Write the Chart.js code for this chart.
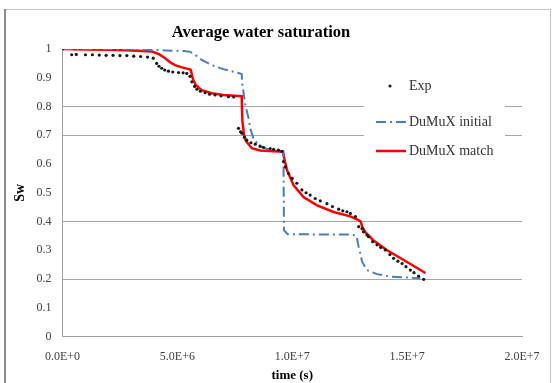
<!DOCTYPE html>
<html>
<head>
<meta charset="utf-8">
<title>Average water saturation</title>
<script src="https://cdn.jsdelivr.net/npm/chart.js@4.4.1/dist/chart.umd.min.js"></script>
<style>
  html, body { margin: 0; padding: 0; background: #fff; }
  #chart { display: block; }
</style>
</head>
<body>
<canvas id="chart" width="554" height="383"></canvas>
<script>
/* Average water saturation vs time - Exp data + two DuMuX runs. */

// time is kept in units of 1e6 s (axis labels below say the same thing in E-notation)
const expTime = [0, 0.4, 0.6, 1.0, 1.3, 1.6, 1.9, 2.2, 2.5, 2.8, 3.1, 3.4, 3.7, 3.95,
  4.1, 4.2, 4.32, 4.45, 4.61, 4.8, 5.05, 5.25, 5.41, 5.55, 5.63, 5.75, 5.85, 6.0, 6.21,
  6.4, 6.64, 6.9, 7.22, 7.45, 7.66, 7.75, 7.81, 7.92, 8.02, 8.2, 8.39, 8.6, 8.75, 9.04,
  9.19, 9.4, 9.55, 9.62, 9.7, 9.84, 10.0, 10.2, 10.42, 10.6, 10.78, 11.0, 11.22, 11.51,
  11.75, 12.02, 12.2, 12.38, 12.53, 12.75, 12.89, 13.04, 13.1, 13.25, 13.32, 13.5, 13.69,
  13.85, 14.05, 14.25, 14.41, 14.6, 14.78, 14.95, 15.14, 15.3, 15.5, 15.72];
const expSw = [1.0, 0.98, 0.981, 0.98, 0.98, 0.979, 0.978, 0.978, 0.977, 0.977, 0.975, 0.974, 0.972, 0.968,
  0.95, 0.94, 0.933, 0.927, 0.923, 0.92, 0.918, 0.917, 0.915, 0.905, 0.886, 0.87, 0.86, 0.853, 0.848,
  0.843, 0.84, 0.837, 0.834, 0.833, 0.724, 0.712, 0.707, 0.693, 0.683, 0.674, 0.669, 0.662, 0.658, 0.654,
  0.651, 0.648, 0.644, 0.608, 0.59, 0.567, 0.55, 0.533, 0.51, 0.5, 0.492, 0.48, 0.472, 0.462,
  0.452, 0.443, 0.437, 0.434, 0.428, 0.417, 0.382, 0.375, 0.364, 0.353, 0.347, 0.33, 0.319,
  0.31, 0.301, 0.285, 0.272, 0.262, 0.254, 0.243, 0.231, 0.222, 0.21, 0.199];

const initTime = [0, 2.0, 3.5, 4.5, 5.3, 5.56, 5.8, 6.06, 6.5, 7.0, 7.5, 7.8, 7.82, 7.95,
  8.1, 8.17, 8.31, 8.6, 9.0, 9.6, 9.62, 9.64, 9.8, 11.0, 12.5, 12.8, 12.89, 12.96, 13.04,
  13.25, 13.69, 14.27, 15.0, 15.58];
const initSw = [1.0, 1.0, 0.998, 0.995, 0.993, 0.99, 0.978, 0.962, 0.944, 0.93, 0.92, 0.913, 0.88, 0.81,
  0.758, 0.724, 0.689, 0.66, 0.65, 0.645, 0.6, 0.37, 0.356, 0.355, 0.355, 0.35, 0.312, 0.29, 0.26,
  0.231, 0.217, 0.208, 0.205, 0.202];

const matchTime = [0, 1.0, 2.0, 3.0, 3.9, 4.2, 4.47, 4.7, 4.9, 5.2, 5.5, 5.58, 5.68, 5.8,
  6.06, 6.5, 7.0, 7.8, 7.83, 7.9, 7.98, 8.24, 8.6, 9.0, 9.6, 9.65, 9.77, 10.06, 10.49,
  11.08, 11.8, 12.53, 12.86, 12.98, 13.05, 13.18, 13.54, 14.13, 15.0, 15.8];
const matchSw = [1.0, 0.998, 0.997, 0.995, 0.991, 0.982, 0.968, 0.953, 0.944, 0.936, 0.93, 0.928, 0.895, 0.875,
  0.857, 0.846, 0.84, 0.836, 0.75, 0.7, 0.68, 0.655, 0.647, 0.645, 0.643, 0.62, 0.579, 0.526, 0.485,
  0.456, 0.433, 0.418, 0.406, 0.4, 0.38, 0.363, 0.334, 0.3, 0.259, 0.221];

const seriesNames = ["Exp", "DuMuX initial", "DuMuX match"];
const xTickLabels = ["0.0E+0", "5.0E+6", "1.0E+7", "1.5E+7", "2.0E+7"];
const yTickLabels = ["0", "0.1", "0.2", "0.3", "0.4", "0.5", "0.6", "0.7", "0.8", "0.9", "1"];
const shownGridSw = [0.2, 0.4, 0.7, 0.8];   // only these horizontal lines show in the original

const SERIF = "'Liberation Serif', 'Times New Roman', serif";
const toPoints = (t, s) => t.map((v, i) => ({ x: v, y: s[i] }));

// white page + thin grey frame like the Excel chart border
const frame = {
  id: "frame",
  beforeDraw(chart) {
    const ctx = chart.ctx;
    ctx.save();
    ctx.fillStyle = "#fff";
    ctx.fillRect(0, 0, chart.width, chart.height);
    ctx.strokeStyle = "#c4c4c4";
    ctx.lineWidth = 1;
    ctx.strokeRect(5.5, 9.5, 545, 390);
    ctx.strokeStyle = "#8c8c8c";
    ctx.lineWidth = 2;
    ctx.beginPath(); ctx.moveTo(5, 9); ctx.lineTo(5, chart.height); ctx.stroke();
    ctx.restore();
  }
};

// legend sits on top of the plot area (white box hides grid lines)
const floatingLegend = {
  id: "floatingLegend",
  afterDraw(chart) {
    const ctx = chart.ctx;
    const rows = [86, 122, 151];
    ctx.save();
    ctx.fillStyle = "#fff";
    ctx.fillRect(364, 72, 141, 100);
    ctx.font = "14px " + SERIF;
    ctx.textBaseline = "middle";
    chart.data.datasets.forEach((ds, i) => {
      const y = rows[i];
      if (!ds.showLine) {
        ctx.fillStyle = "#3a1010";
        ctx.beginPath(); ctx.arc(390, y, 1.6, 0, Math.PI * 2); ctx.fill();
      } else {
        ctx.strokeStyle = ds.borderColor;
        ctx.lineWidth = ds.borderWidth;
        ctx.setLineDash(ds.borderDash || []);
        ctx.beginPath(); ctx.moveTo(376, y); ctx.lineTo(406, y); ctx.stroke();
        ctx.setLineDash([]);
      }
      ctx.fillStyle = "#333";
      ctx.fillText(ds.label, 409, y);
    });
    ctx.restore();
  }
};

new Chart(document.getElementById("chart"), {
  type: "scatter",
  data: {
    datasets: [
      { label: seriesNames[0], data: toPoints(expTime, expSw), showLine: false,
        pointRadius: 1.6, pointBackgroundColor: "#1a1a1a", pointBorderWidth: 0 },
      { label: seriesNames[1], data: toPoints(initTime, initSw), showLine: true,
        borderColor: "#4a7ebb", borderWidth: 2, borderDash: [10, 4, 2, 4], pointRadius: 0 },
      { label: seriesNames[2], data: toPoints(matchTime, matchSw), showLine: true,
        borderColor: "#ff0000", borderWidth: 2.5, pointRadius: 0 },
    ],
  },
  options: {
    responsive: false,
    animation: false,
    layout: { padding: { top: 0, right: 32, bottom: 0, left: 0 } },
    plugins: {
      legend: { display: false },
      tooltip: { enabled: false },
      title: {
        display: true, text: "Average water saturation", color: "#000",
        font: { family: SERIF, size: 16.5, weight: "bold" },
        padding: { top: 23, bottom: 6.2 },
      },
    },
    scales: {
      x: {
        type: "linear", min: 0, max: 20,
        ticks: { stepSize: 5, padding: 13, maxRotation: 0, color: "#404040",
                 font: { family: SERIF, size: 12 },
                 callback: (v) => xTickLabels[Math.round(v / 5)] },
        grid: { display: false, drawTicks: false },
        border: { color: "#a0a0a0", width: 1 },
        title: { display: true, text: "time (s)", color: "#000",
                 font: { family: SERIF, size: 13, weight: "bold" }, padding: { top: 0, bottom: 0 } },
        afterFit: (s) => { s.height = 46.5; },
      },
      y: {
        min: 0, max: 1,
        ticks: { stepSize: 0.1, padding: 11, color: "#404040",
                 font: { family: SERIF, size: 12 },
                 callback: (v) => yTickLabels[Math.round(v * 10)] },
        grid: {
          drawTicks: false,
          color: (c) => shownGridSw.some(g => Math.abs(g - c.tick.value) < 1e-6) ? "#a6a6a6" : "rgba(0,0,0,0)",
        },
        border: { color: "#a0a0a0", width: 1 },
        title: { display: true, text: "Sw", color: "#000",
                 font: { family: SERIF, size: 14, weight: "bold" }, padding: { top: 12, bottom: 0 } },
        afterFit: (s) => { s.width = 62.5; },
      },
    },
  },
  plugins: [frame, floatingLegend],
});
</script>
</body>
</html>
